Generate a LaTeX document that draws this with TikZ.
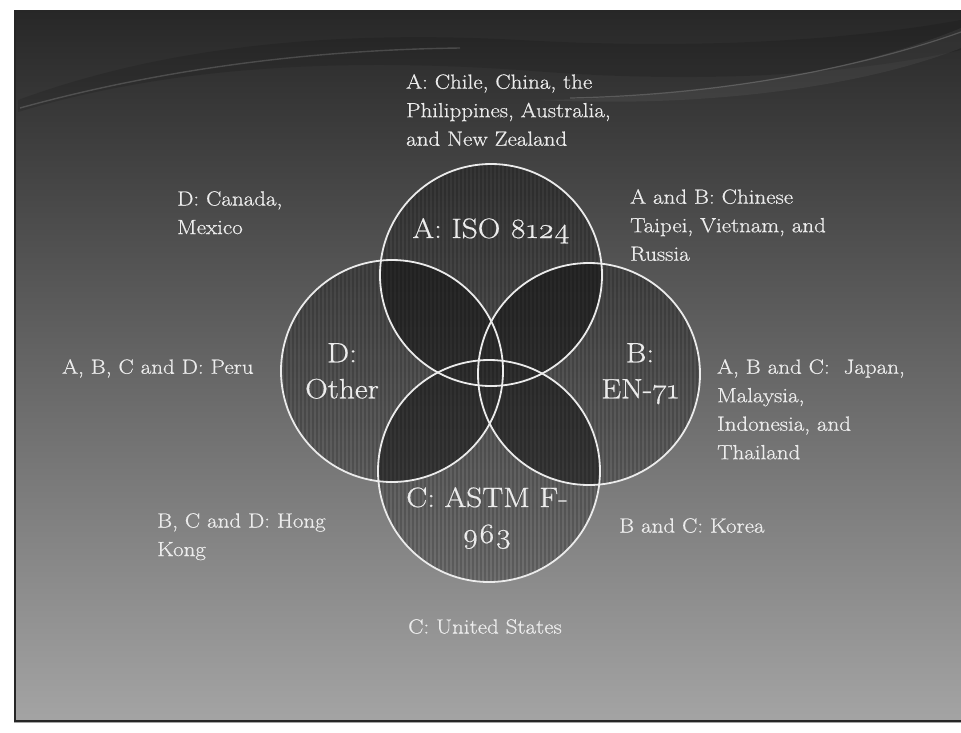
\documentclass[tikz,border=0pt]{standalone}
\usepackage{fontspec}
\setmainfont{Latin Modern Roman}[Numbers=OldStyle, FakeStretch=1.12, FakeBold=0.6]
\definecolor{slidetop}{HTML}{272727}
\definecolor{slidemid}{HTML}{4f4f4f}
\definecolor{slidebot}{HTML}{a4a4a4}
\definecolor{labeltext}{HTML}{ECECEC}
\newcommand{\slidebg}{%
  \shade[top color=slidetop, middle color=slidemid, bottom color=slidebot] (14,10) rectangle (961,722);
}
\newcommand{\allsets}{(A) circle[radius=111pt] (B) circle[radius=111pt]
  (C) circle[radius=111pt] (D) circle[radius=111pt]}
\tikzset{
  country/.style={anchor=north west, inner sep=0pt, align=left, text=labeltext,
    font=\fontsize{20.5}{28.5}\selectfont},
  setname/.style={anchor=north, inner sep=0pt, align=center, text=labeltext,
    font=\fontsize{28}{36}\selectfont},
  ring/.style={draw=white!92!black, line width=1.8pt},
  hatch/.style={black, opacity=0.16, line width=1.3pt},
}

\begin{document}
\begin{tikzpicture}[x=1pt, y=-1pt]
  \useasboundingbox (0,0) rectangle (961,732);
  \fill[white] (0,0) rectangle (961,732);
  \slidebg
  \draw[black!85, line width=1.6pt] (15,10) -- (15,721) -- (961,721);

  % swoosh across the top
  \fill[black, opacity=0.12] (18,100) .. controls (140,55) and (300,28) .. (520,40)
    .. controls (700,50) and (850,40) .. (961,20) -- (961,50) .. controls (850,75) and (700,85) .. (520,70)
    .. controls (300,55) and (140,75) .. (18,112) -- cycle;
  \draw[white, opacity=0.16, line width=1.4pt] (20,108) .. controls (150,72) and (300,50) .. (460,48);
  \fill[white, opacity=0.05] (540,100) .. controls (700,98) and (860,70) .. (961,28)
    -- (961,48) .. controls (860,88) and (700,108) .. (540,100) -- cycle;
  \draw[white, opacity=0.18, line width=1.2pt] (570,98) .. controls (720,95) and (860,68) .. (961,32);

  \coordinate (A) at (491,275);
  \coordinate (D) at (392,371);
  \coordinate (B) at (589,374);
  \coordinate (C) at (489,471);

  % single sets: shaded with vertical hatching
  \begin{scope}[transparency group, opacity=0.2]
    \fill[black] \allsets;
  \end{scope}
  \begin{scope}
    \clip \allsets;
    \foreach \x in {281,285,...,701}
      \draw[hatch] (\x,160) -- (\x,586);
  \end{scope}
  % overlaps: plain and darker
  \begin{scope}[transparency group, opacity=0.42]
    \foreach \p/\q in {A/B,A/C,A/D,B/C,B/D,C/D}{
      \begin{scope}
        \clip (\p) circle[radius=111pt];
        \fill[black] (\q) circle[radius=111pt];
      \end{scope}
    }
  \end{scope}
  \foreach \c in {A,B,C,D}
    \draw[ring] (\c) circle[radius=111pt];

  \node[setname] (isoA) at (491,218) {A: ISO 8124};
  \node[setname] (otherD) at (342,343) {D:\\Other};
  \node[setname] (enB) at (640,343) {B:\\EN-71};
  \node[setname] (astmC) at (487,487) {C: ASTM F-\\963};

  \node[country] (onlyA) at (406,74) {A: Chile, China, the\\Philippines, Australia,\\and New Zealand};
  \node[country] (onlyD) at (177,191) {D: Canada,\\Mexico};
  \node[country] (bothAB) at (630,189) {A and B: Chinese\\Taipei, Vietnam, and\\Russia};
  \node[country] (allABCD) at (62,359) {A, B, C and D: Peru};
  \node[country] (threeABC) at (717,359) {A, B and C:\ \ Japan,\\Malaysia,\\Indonesia, and\\Thailand};
  \node[country] (threeBCD) at (157,513) {B, C and D: Hong\\Kong};
  \node[country] (bothBC) at (619,518) {B and C: Korea};
  \node[country] (onlyC) at (408,619) {C: United States};
\end{tikzpicture}
\end{document}
